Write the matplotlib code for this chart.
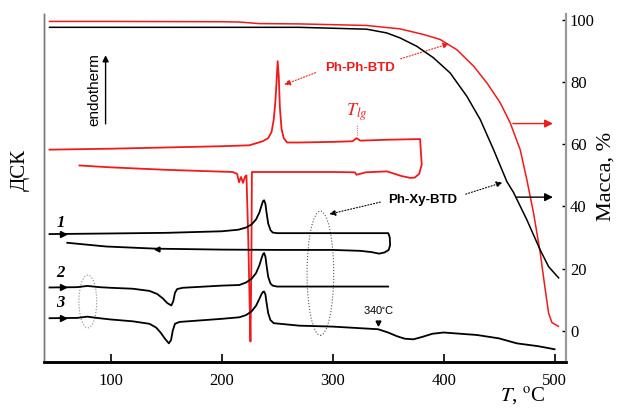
"""
DSC / TGA overlay for Ph-Ph-BTD (red) and Ph-Xy-BTD (black).
Left axis: DSC (arbitrary units, no ticks). Right axis: mass, %.
"""

import matplotlib
matplotlib.use("Agg")
import matplotlib.pyplot as plt
from matplotlib.patches import Ellipse

plt.rcParams["font.family"] = ["Liberation Serif", "DejaVu Serif"]
plt.rcParams["mathtext.fontset"] = "stix"

RED = "#f01a1a"

# ---------------------------------------------------------------------------
# TGA, mass %
# ---------------------------------------------------------------------------
tga_red_T = [45, 100, 200, 216, 234, 270, 330.7, 360.7, 381.8, 396.8, 411.9,
             427, 439, 451, 460, 469, 475, 481, 487, 491.6, 494.6, 497.6,
             503.4]
tga_red_m = [99.6, 99.6, 99.5, 99.4, 98.9, 98.8, 98.3, 97.2, 95.4, 93.8, 90.5,
             85.2, 79.8, 73.4, 66.9, 58.3, 48.6, 37.9, 25.2, 13.1, 5.6, 2.6,
             1.4]

tga_blk_T = [45, 200, 270, 330.7, 348.7, 360.7, 375.8, 390.8, 405.9, 420.9,
             433, 445, 457, 463, 475, 487, 494.6, 503.6]
tga_blk_m = [97.7, 97.7, 97.7, 97.1, 95.9, 94.3, 91.6, 87.9, 83.0, 75.5, 68.0,
             58.3, 48.0, 44.5, 35.7, 26.0, 20.6, 17.0]

# ---------------------------------------------------------------------------
# DSC, arbitrary units (same scale as mass axis)
# ---------------------------------------------------------------------------
# Ph-Ph-BTD: heating then cooling, one closed trace
dsc_red_T = [45, 100, 150, 200, 225, 237, 242, 245, 247, 248.5, 249.5, 250.5,
             251.5, 252.5, 254, 256, 259, 270, 300, 318, 321.6, 325, 350,
             378.8, 380.3,
             378, 374, 370, 362, 349, 330, 321.6, 320, 300, 260, 227.3,
             226.8, 226, 225.5, 224, 222.4, 221, 219.3, 217.5, 215.7, 214,
             210, 150, 100, 72]
dsc_red_v = [58.3, 58.6, 59.0, 59.4, 59.7, 61.0, 62.0, 64.0, 68.0, 74.0, 80.0,
             86.8, 82.0, 72.0, 65.0, 62.0, 60.6, 60.6, 60.8, 61.0, 62.0, 61.2,
             61.5, 61.7, 53.5,
             50.5, 49.3, 49.2, 49.8, 51.3, 51.0, 50.2, 51.0, 51.1, 51.1, 51.1,
             20.0, -3.5, 5.0, 30.0, 50.0, 49.5, 47.6, 49.5, 47.8, 50.5,
             51.1, 51.8, 52.6, 53.2]

# Ph-Xy-BTD, run 1 (heating + cooling)
dsc1_T = [45, 100, 150, 200, 215, 222, 227, 231, 234, 236, 237.3, 238.3,
          239.5, 240.5, 242, 244, 246, 250, 300, 350.2, 351.5, 351.8, 350.5,
          347, 342, 335, 325, 300, 250, 200, 141, 96, 61]
dsc1_v = [31.1, 31.3, 31.5, 32.0, 32.5, 33.2, 34.2, 35.8, 38.0, 40.3, 41.7,
          42.0, 40.8, 38.0, 34.5, 32.4, 31.6, 31.4, 31.4, 31.4, 30.0, 27.5,
          26.0, 25.2, 24.8, 25.3, 25.7, 26.0, 26.0, 26.1, 26.4, 27.1, 28.3]

# Ph-Xy-BTD, run 2
dsc2_T = [45, 70, 79, 90, 100, 120, 135, 142, 147, 151, 154.7, 156.5, 158,
          160, 165, 200, 216, 222, 227, 231, 234, 236, 237.3, 238.3, 239.5,
          240.5, 242, 244, 246, 250, 300, 350]
dsc2_v = [13.9, 14.0, 14.4, 14.0, 13.8, 13.5, 12.8, 11.8, 10.4, 8.9, 8.1, 9.5,
          12.2, 13.4, 13.8, 14.5, 14.7, 15.5, 16.7, 18.5, 21.0, 23.3, 24.6,
          25.0, 23.8, 21.0, 17.3, 15.2, 14.5, 14.2, 14.2, 14.2]

# Ph-Xy-BTD, run 3
dsc3_T = [45, 70, 79, 90, 100, 120, 135, 141, 145, 149, 152.5, 154.5, 156,
          158, 162, 200, 216, 222, 227, 231, 234, 236, 237.3, 238.3, 239.5,
          240.5, 242, 244, 247, 270, 300, 341, 350, 358, 365, 372.7, 380,
          390, 400, 430, 450, 466, 485, 500]
dsc3_v = [4.0, 4.1, 4.5, 4.0, 3.6, 3.0, 2.2, 1.0, -0.6, -2.6, -4.1, -3.0, 0.0,
          2.2, 2.8, 3.8, 4.3, 5.0, 6.2, 8.0, 10.2, 11.8, 12.5, 12.6, 11.6, 9.0,
          5.6, 3.4, 2.4, 1.6, 1.3, 0.45, -0.6, -1.8, -2.6, -2.8, -2.1, -1.0,
          -0.6, -1.4, -2.5, -4.1, -5.0, -6.0]

curve_labels = ["1", "2", "3"]
curve_label_y = [34.6, 18.7, 8.8]
x_ticks = [100, 200, 300, 400, 500]
y_ticks = [0, 20, 40, 60, 80, 100]

# ---------------------------------------------------------------------------
# Figure
# ---------------------------------------------------------------------------
fig = plt.figure(figsize=(6.22, 4.11), dpi=100)
ax = fig.add_axes([0.0707, 0.12, 0.8388, 0.846])
ax2 = ax.twinx()

ax.set_xlim(40, 510)
ax.set_ylim(-10, 102)
ax2.set_ylim(-10, 102)

# DSC traces
ax.plot(dsc_red_T, dsc_red_v, color=RED, lw=1.3)
ax.plot(dsc1_T, dsc1_v, color="black", lw=1.3)
ax.plot(dsc2_T, dsc2_v, color="black", lw=1.3)
ax.plot(dsc3_T, dsc3_v, color="black", lw=1.3)

# direction markers on the black traces
for y in [31.1, 13.9, 4.0]:
    ax.plot(57, y, marker=">", ms=4, color="black")
ax.plot(142, 26.4, marker="<", ms=3.5, color="black")

for lab, y in zip(curve_labels, curve_label_y):
    ax.text(55, y, lab, fontsize=12, fontweight="bold", style="italic",
            ha="center", va="center")

# TGA traces
ax2.plot(tga_red_T, tga_red_m, color=RED, lw=1.1)
ax2.plot(tga_blk_T, tga_blk_m, color="black", lw=1.1)

# arrows pointing to the mass axis
ax2.annotate("", xy=(501, 66.7), xytext=(460, 66.7),
             arrowprops=dict(arrowstyle="-|>", color=RED, lw=1.0,
                             mutation_scale=12))
ax2.annotate("", xy=(501, 43), xytext=(463, 43),
             arrowprops=dict(arrowstyle="-|>", color="black", lw=1.0,
                             mutation_scale=12))

# sample labels with dotted leader arrows
ax.text(324.7, 84.7, "Ph-Ph-BTD", color=RED, fontsize=9.5, fontweight="bold",
        family="Liberation Sans", ha="center", va="center")
ax.annotate("", xy=(254, 78.9), xytext=(287, 83.4),
            arrowprops=dict(arrowstyle="-|>", color=RED, lw=0.8, ls=":",
                            mutation_scale=9))
ax.annotate("", xy=(407.4, 92.7), xytext=(359, 87.3),
            arrowprops=dict(arrowstyle="-|>", color=RED, lw=0.8, ls=":",
                            mutation_scale=9))

ax.text(381.5, 42.1, "Ph-Xy-BTD", color="black", fontsize=9.5,
        fontweight="bold", family="Liberation Sans", ha="center", va="center")
ax.annotate("", xy=(455.5, 48), xytext=(417.6, 43.7),
            arrowprops=dict(arrowstyle="-|>", color="black", lw=0.8, ls=":",
                            mutation_scale=9))
ax.annotate("", xy=(294.6, 37.3), xytext=(345.4, 41.6),
            arrowprops=dict(arrowstyle="-|>", color="black", lw=0.8, ls=":",
                            mutation_scale=9))

# dotted ellipses
ax.add_patch(Ellipse((289, 18.5), 24, 40, fill=False, ls=":", lw=0.8,
                     ec="#555555"))
ax.add_patch(Ellipse((79.5, 9.4), 16, 17, fill=False, ls=":", lw=0.8,
                     ec="#888888"))

# T_lg mark
ax.text(321.6, 70.2, r"$T_{lg}$", color=RED, fontsize=13, ha="center",
        va="center")
ax.plot([321.6, 321.6], [63, 66.5], color=RED, lw=0.6, ls=":")

# 340 °C mark
ax.text(342, 6.8, r"340$^{\circ}$C", fontsize=8, family="Liberation Sans",
        ha="center", va="center")
ax.plot(341, 2.4, marker="v", ms=3.5, color="black")

# endotherm arrow
ax.text(85.6, 77.6, "endotherm", rotation=90, fontsize=11,
        family="Liberation Sans", ha="center", va="center")
ax.annotate("", xy=(95.5, 89.6), xytext=(95.5, 65.7),
            arrowprops=dict(arrowstyle="-|>", color="black", lw=1.0,
                            mutation_scale=9))

# axes styling
ax.set_xticks(x_ticks)
ax.set_yticks([])
ax.tick_params(axis="x", direction="in", length=6, width=1.2, labelsize=12,
               pad=8)
ax2.set_yticks(y_ticks)
ax2.tick_params(axis="y", direction="in", length=3, width=1.0, labelsize=12,
                pad=3)
for a in (ax, ax2):
    a.spines["top"].set_visible(False)
    a.spines["left"].set_color("#777777")
    a.spines["left"].set_linewidth(1.0)
    a.spines["right"].set_color("#999999")
    a.spines["right"].set_linewidth(1.5)
    a.spines["bottom"].set_linewidth(1.8)

fig.text(0.032, 0.586, "ДСК", rotation=90, fontsize=15, ha="center",
         va="center")
fig.text(0.975, 0.57, "Масса, %", rotation=90, fontsize=16, ha="center",
         va="center")
fig.text(0.84, 0.035, r"$T$, $^{\rm o}$C", fontsize=15, ha="center",
         va="center")

fig.savefig("out.png", dpi=100)
